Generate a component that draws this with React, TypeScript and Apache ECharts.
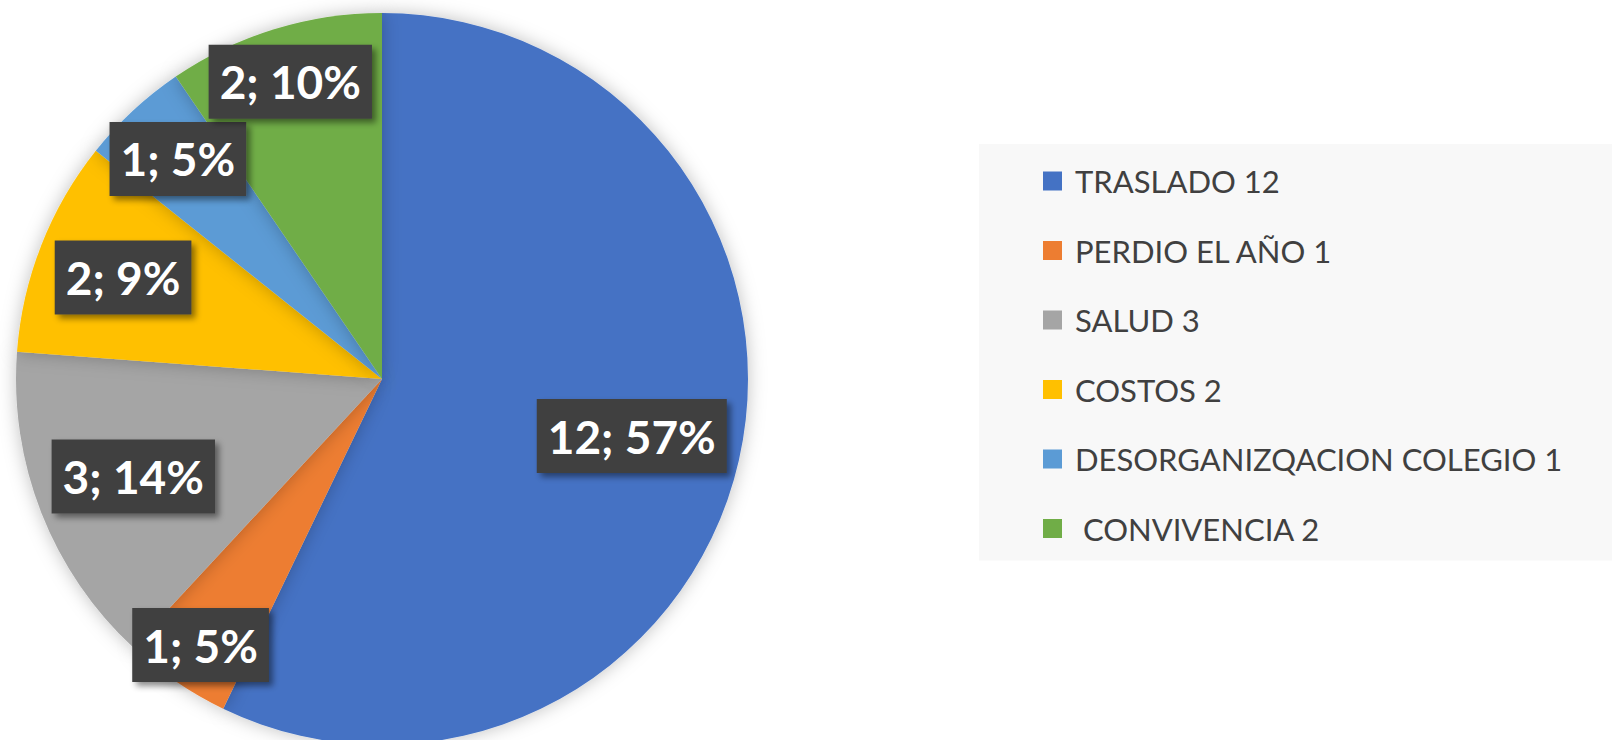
import React, { useEffect, useRef } from "react";
import * as echarts from "echarts";

const categories = [
  "TRASLADO 12",
  "PERDIO EL AÑO 1",
  "SALUD 3",
  "COSTOS 2",
  "DESORGANIZQACION COLEGIO 1",
  " CONVIVENCIA 2",
];
const values = [12, 1, 3, 2, 1, 2];
const percentLabels = ["57%", "5%", "14%", "9%", "5%", "10%"];

const colors = ["#4472C4", "#ED7D31", "#A5A5A5", "#FFC000", "#5B9BD5", "#70AD47"];
// radial placement of each data label, as a fraction of the pie radius
const labelRadiusFrac = [0.7, 0.88, 0.73, 0.76, 0.82, 0.85];

const CX = 382;
const CY = 379;
const R = 366;

export default function App() {
  const ref = useRef<HTMLDivElement>(null);
  useEffect(() => {
    if (!ref.current) return;
    const chart = echarts.init(ref.current, null, { renderer: "svg" });
    const total = values.reduce((a, b) => a + b, 0);
    const mids: number[] = [];
    let acc = 0;
    values.forEach((v) => {
      const a0 = (acc / total) * Math.PI * 2;
      acc += v;
      const a1 = (acc / total) * Math.PI * 2;
      mids.push((a0 + a1) / 2);
    });
    chart.setOption({
      animation: false,
      backgroundColor: "#ffffff",
      color: colors,
      legend: {
        orient: "vertical",
        left: 979,
        top: 144,
        backgroundColor: "#F8F8F8",
        padding: [19, 60, 14, 64],
        itemWidth: 19,
        itemHeight: 19,
        itemGap: 33.5,
        icon: "rect",
        selectedMode: false,
        data: categories,
        textStyle: {
          fontFamily: "Lato",
          fontSize: 31,
          lineHeight: 36,
          color: "#404040",
          padding: [0, 0, 0, 8],
        },
      },
      series: [
        {
          type: "pie",
          center: [CX, CY],
          radius: [0, R],
          startAngle: 90,
          clockwise: true,
          itemStyle: {
            shadowBlur: 18,
            shadowColor: "rgba(0,0,0,0.25)",
          },
          emphasis: { disabled: true },
          data: categories.map((name, i) => ({ name, value: values[i] })),
          label: {
            show: true,
            position: "inside",
            formatter: (p: any) => `${values[p.dataIndex]}; ${percentLabels[p.dataIndex]}`,
            fontFamily: "Lato",
            fontWeight: "bold",
            fontSize: 46,
            lineHeight: 54,
            color: "#ffffff",
            backgroundColor: "#404040",
            padding: [10, 11, 10, 11],
            shadowBlur: 6,
            shadowColor: "rgba(0,0,0,0.45)",
            shadowOffsetX: 4,
            shadowOffsetY: 4,
          },
          labelLine: { show: false },
          labelLayout: (p: any) => {
            const i = p.dataIndex;
            const a = mids[i];
            const r = labelRadiusFrac[i] * R;
            return { x: CX + r * Math.sin(a), y: CY - r * Math.cos(a) };
          },
        },
      ],
    });
    return () => chart.dispose();
  }, []);
  return (
    <div
      ref={ref}
      style={{ position: "fixed", left: 0, top: 0, width: 1612, height: 740 }}
    />
  );
}
